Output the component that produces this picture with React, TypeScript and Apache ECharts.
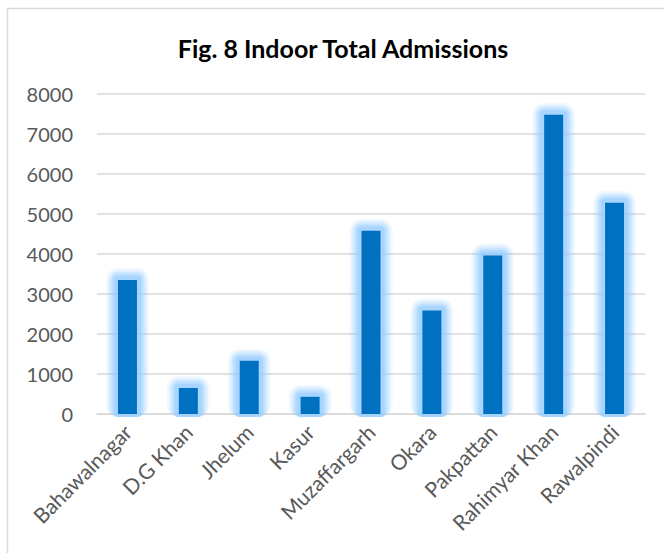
import React, { useEffect, useRef } from "react";
import * as echarts from "echarts";

const categories = [
  "Bahawalnagar",
  "D.G Khan",
  "Jhelum",
  "Kasur",
  "Muzaffargarh",
  "Okara",
  "Pakpattan",
  "Rahimyar Khan",
  "Rawalpindi",
];
const admissions = [3350, 650, 1330, 430, 4580, 2590, 3960, 7480, 5280];
const titleText = "Fig. 8 Indoor Total Admissions";

export default function App() {
  const ref = useRef<HTMLDivElement>(null);
  useEffect(() => {
    if (!ref.current) return;
    const chart = echarts.init(ref.current, undefined, { renderer: "svg" });
    const barW = 19;
    chart.setOption({
      animation: false,
      backgroundColor: "#ffffff",
      title: {
        text: titleText,
        left: 338,
        textAlign: "center",
        top: 30,
        textStyle: {
          fontFamily: "Lato",
          fontWeight: "bold",
          fontSize: 25,
          color: "#000000",
        },
      },
      graphic: [
        {
          type: "rect",
          shape: { x: 7.5, y: 8.5, width: 720, height: 620 },
          style: { fill: "none", stroke: "#d9d9d9", lineWidth: 1.5 },
          silent: true,
        },
      ],
      grid: { left: 97, right: 19, top: 94, bottom: 139, containLabel: false },
      xAxis: {
        type: "category",
        data: categories,
        axisLine: { show: true, lineStyle: { color: "#d9d9d9", width: 1.5 } },
        axisTick: { show: false },
        axisLabel: {
          rotate: 45,
          interval: 0,
          margin: 14,
          fontFamily: "Lato",
          fontSize: 21,
          color: "#595959",
        },
      },
      yAxis: {
        type: "value",
        min: 0,
        max: 8000,
        interval: 1000,
        axisLine: { show: false },
        axisTick: { show: false },
        splitLine: { lineStyle: { color: "#d9d9d9", width: 1.5 } },
        axisLabel: {
          margin: 24,
          fontFamily: "Lato",
          fontSize: 20,
          color: "#595959",
          formatter: (v: number) => String(v),
        },
      },
      series: [
        {
          type: "custom",
          z: 1,
          silent: true,
          data: admissions.map((v, i) => [i, v]),
          renderItem: (params: any, api: any) => {
            const top = api.coord([api.value(0), api.value(1)]);
            const base = api.coord([api.value(0), 0]);
            const layers = [
              { e: 12, a: 0.12 },
              { e: 10, a: 0.18 },
              { e: 8, a: 0.26 },
              { e: 6, a: 0.36 },
              { e: 4, a: 0.5 },
            ];
            return {
              type: "group",
              children: layers.map((l) => ({
                type: "rect",
                shape: {
                  x: top[0] - barW / 2 - l.e,
                  y: top[1] - l.e,
                  width: barW + 2 * l.e,
                  height: base[1] - top[1] + l.e + 3,
                  r: l.e,
                },
                style: { fill: `rgba(150,205,255,${l.a})` },
              })),
            };
          },
        },
        {
          type: "bar",
          z: 2,
          data: admissions,
          barWidth: barW,
          itemStyle: { color: "#0070c0" },
        },
      ],
    });
    return () => chart.dispose();
  }, []);
  return (
    <div
      ref={ref}
      style={{ position: "fixed", left: 0, top: 0, width: 664, height: 553 }}
    />
  );
}
